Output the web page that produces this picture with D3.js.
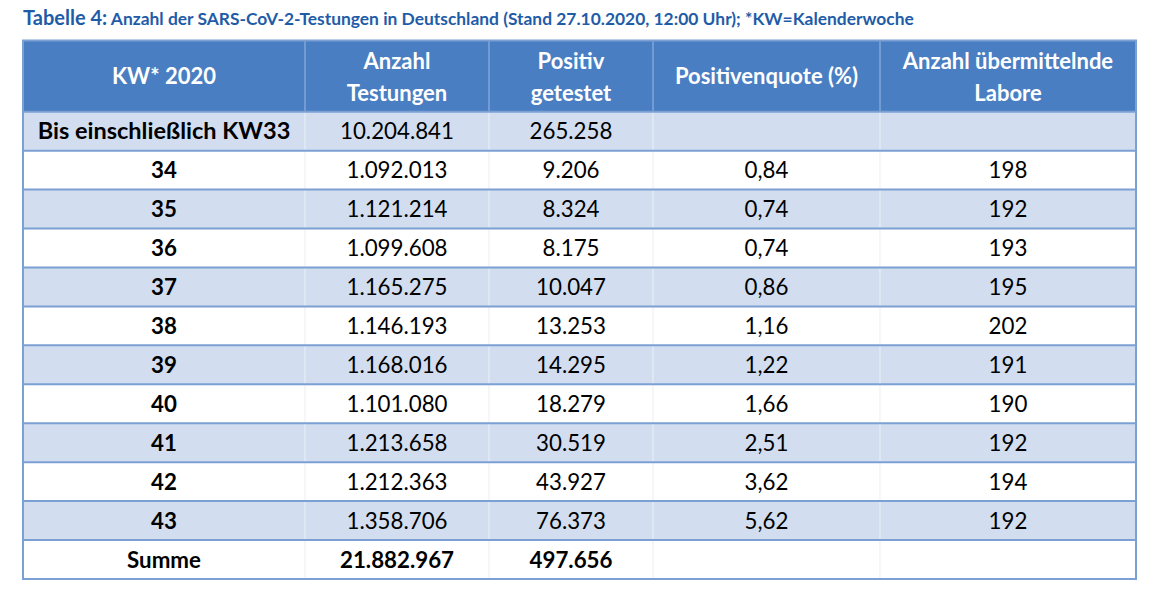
<!DOCTYPE html>
<html>
<head>
<meta charset="utf-8">
<script src="https://cdn.jsdelivr.net/npm/d3@7"></script>
<style>
  body { margin: 0; background: #fff; }
  svg { display: block; }
  text { font-family: Lato, "Open Sans", sans-serif; }
</style>
</head>
<body>
<svg id="chart" width="1153" height="590"></svg>
<script>
// ---- data ----
const titleBold = "Tabelle 4:";
const titleRest = " Anzahl der SARS-CoV-2-Testungen in Deutschland (Stand 27.10.2020, 12:00 Uhr); *KW=Kalenderwoche";
const headers = [["KW* 2020"], ["Anzahl", "Testungen"], ["Positiv", "getestet"], ["Positivenquote (%)"], ["Anzahl übermittelnde", "Labore"]];
const weeks = ["Bis einschließlich KW33", "34", "35", "36", "37", "38", "39", "40", "41", "42", "43", "Summe"];
const tests = ["10.204.841", "1.092.013", "1.121.214", "1.099.608", "1.165.275", "1.146.193", "1.168.016", "1.101.080", "1.213.658", "1.212.363", "1.358.706", "21.882.967"];
const positives = ["265.258", "9.206", "8.324", "8.175", "10.047", "13.253", "14.295", "18.279", "30.519", "43.927", "76.373", "497.656"];
const quotes = ["", "0,84", "0,74", "0,74", "0,86", "1,16", "1,22", "1,66", "2,51", "3,62", "5,62", ""];
const labs = ["", "198", "192", "193", "195", "202", "191", "190", "192", "194", "192", ""];

// ---- layout ----
const colEdges = [23, 305, 489, 653, 880, 1136];
const tableTop = 40.5, headerBottom = 111.7, tableBottom = 579;
const svg = d3.select("#chart");

const columns = [weeks, tests, positives, quotes, labs];
const rowIdx = d3.range(weeks.length);
const y = d3.scaleBand().domain(rowIdx).range([headerBottom, tableBottom]).padding(0);

// title
const title = svg.append("text").attr("x", 23).attr("y", 25).attr("fill", "#1F5CA8").attr("font-weight", 700);
title.append("tspan").attr("font-size", 20).text(titleBold);
title.append("tspan").attr("font-size", 17.4).text(titleRest);

// header background
svg.append("rect").attr("x", colEdges[0]).attr("y", tableTop)
  .attr("width", colEdges[5] - colEdges[0]).attr("height", headerBottom - tableTop)
  .attr("fill", "#4A7EC2");

// body row backgrounds
svg.selectAll("rect.row").data(rowIdx).join("rect")
  .attr("class", "row")
  .attr("x", colEdges[0]).attr("y", d => y(d))
  .attr("width", colEdges[5] - colEdges[0]).attr("height", y.bandwidth())
  .attr("fill", d => d % 2 === 0 ? "#D2DEEF" : "#FFFFFF");

// vertical inner lines
for (let i = 1; i < colEdges.length - 1; i++) {
  svg.append("line").attr("x1", colEdges[i]).attr("x2", colEdges[i])
    .attr("y1", tableTop).attr("y2", headerBottom)
    .attr("stroke", "#8FB0DD").attr("stroke-width", 1.2);
  svg.selectAll(null).data(rowIdx).join("line")
    .attr("x1", colEdges[i]).attr("x2", colEdges[i])
    .attr("y1", d => y(d)).attr("y2", d => y(d) + y.bandwidth())
    .attr("stroke", d => d % 2 === 0 ? "#E6EDF7" : "#EEF1F5").attr("stroke-width", 1.2);
}

// horizontal lines
svg.selectAll("line.h").data(rowIdx).join("line")
  .attr("class", "h")
  .attr("x1", colEdges[0]).attr("x2", colEdges[5])
  .attr("y1", d => y(d)).attr("y2", d => y(d))
  .attr("stroke", "#7BA0D4").attr("stroke-width", 2);

// outer border
svg.append("rect").attr("x", colEdges[0]).attr("y", tableTop)
  .attr("width", colEdges[5] - colEdges[0]).attr("height", tableBottom - tableTop)
  .attr("fill", "none").attr("stroke", "#7BA0D4").attr("stroke-width", 2);

// header text
headers.forEach((lines, c) => {
  const cx = (colEdges[c] + colEdges[c + 1]) / 2;
  const t = svg.append("text").attr("text-anchor", "middle").attr("fill", "#fff")
    .attr("font-weight", 700).attr("font-size", 22);
  if (lines.length === 1) {
    t.attr("x", cx).attr("y", (tableTop + headerBottom) / 2 + 8).text(lines[0]);
  } else {
    lines.forEach((l, k) => t.append("tspan").attr("x", cx).attr("y", 68.5 + k * 32).text(l));
  }
});

// body text
columns.forEach((col, c) => {
  const cx = (colEdges[c] + colEdges[c + 1]) / 2;
  svg.selectAll(null).data(rowIdx).join("text")
    .attr("x", cx).attr("y", d => y(d) + y.bandwidth() / 2 + 8)
    .attr("text-anchor", "middle").attr("fill", "#000")
    .attr("font-size", d => (c === 0 && d === 0) ? 23.5 : 22.3)
    .attr("font-weight", d => (c === 0 || d === weeks.length - 1) ? 700 : 400)
    .text(d => col[d]);
});
</script>
</body>
</html>
